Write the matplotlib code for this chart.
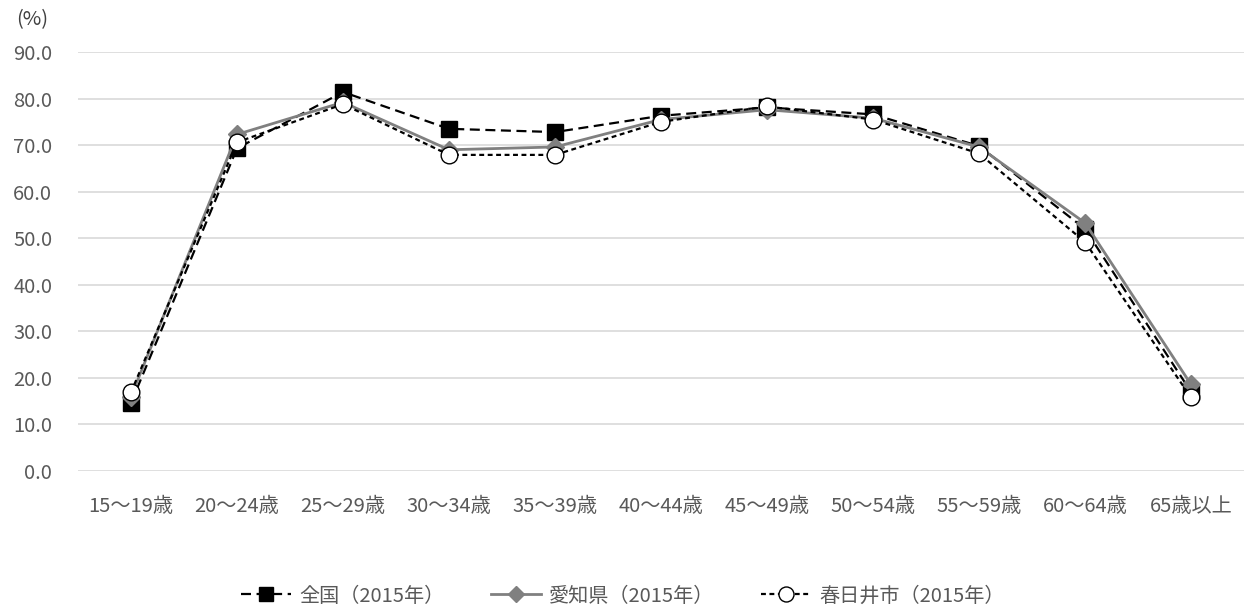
import matplotlib
matplotlib.use("Agg")
import matplotlib.pyplot as plt

plt.rcParams['font.family'] = ['Noto Sans CJK JP', 'DejaVu Sans']

categories = ['15～19歳', '20～24歳', '25～29歳', '30～34歳', '35～39歳', '40～44歳',
              '45～49歳', '50～54歳', '55～59歳', '60～64歳', '65歳以上']
zenkoku = [14.6, 69.3, 81.4, 73.5, 72.8, 76.3, 78.1, 76.6, 69.8, 52.0, 17.0]
aichi = [16.0, 72.3, 79.2, 69.0, 69.6, 75.5, 77.6, 75.8, 69.6, 53.3, 18.6]
kasugai = [16.9, 70.6, 78.8, 67.9, 67.9, 75.0, 78.3, 75.5, 68.2, 49.2, 15.8]
yticks = [0, 10, 20, 30, 40, 50, 60, 70, 80, 90]

text_color = '#595959'
fs = 14.5

fig = plt.figure(figsize=(12.46, 6.12), dpi=100)
ax = fig.add_axes([78 / 1246, 1 - 471 / 612, (1244 - 78) / 1246, (471 - 52) / 612])

x = list(range(len(categories)))
ax.plot(x, zenkoku, color='black', linestyle=(0, (4.5, 2.5)), linewidth=1.6,
        marker='s', markersize=11, markerfacecolor='black', markeredgecolor='black',
        label='全国（2015年）', zorder=3)
ax.plot(x, aichi, color='#808080', linestyle='-', linewidth=2,
        marker='D', markersize=9, markerfacecolor='#808080', markeredgecolor='#808080',
        label='愛知県（2015年）', zorder=4)
ax.plot(x, kasugai, color='black', linestyle=(0, (2.2, 1.6)), linewidth=1.6,
        marker='o', markersize=12, markerfacecolor='white', markeredgecolor='black',
        label='春日井市（2015年）', zorder=5)

ax.set_xlim(-0.5, len(categories) - 0.5)
ax.set_ylim(0, 90)
ax.set_yticks(yticks)
ax.set_yticklabels([f'{v:.1f}' for v in yticks])
ax.set_xticks(x)
ax.set_xticklabels(categories)
ax.grid(axis='y', color='#d9d9d9', linewidth=1.2)
ax.set_axisbelow(True)
for s in ax.spines.values():
    s.set_visible(False)
ax.tick_params(axis='both', length=0, labelsize=fs, colors=text_color)
ax.tick_params(axis='x', pad=18)
ax.tick_params(axis='y', pad=18.5)

fig.text(32 / 1246, 1 - 20 / 612, '(%)', fontsize=fs, color='#404040', va='center', ha='center')

leg = fig.legend(loc='center', bbox_to_anchor=(0.5, 1 - 596 / 612), ncol=3, frameon=False,
                 fontsize=fs, handlelength=2.5, columnspacing=2.3, handletextpad=0.4,
                 markerscale=0.9)
for t in leg.get_texts():
    t.set_color(text_color)

fig.savefig('out.png', dpi=100)
